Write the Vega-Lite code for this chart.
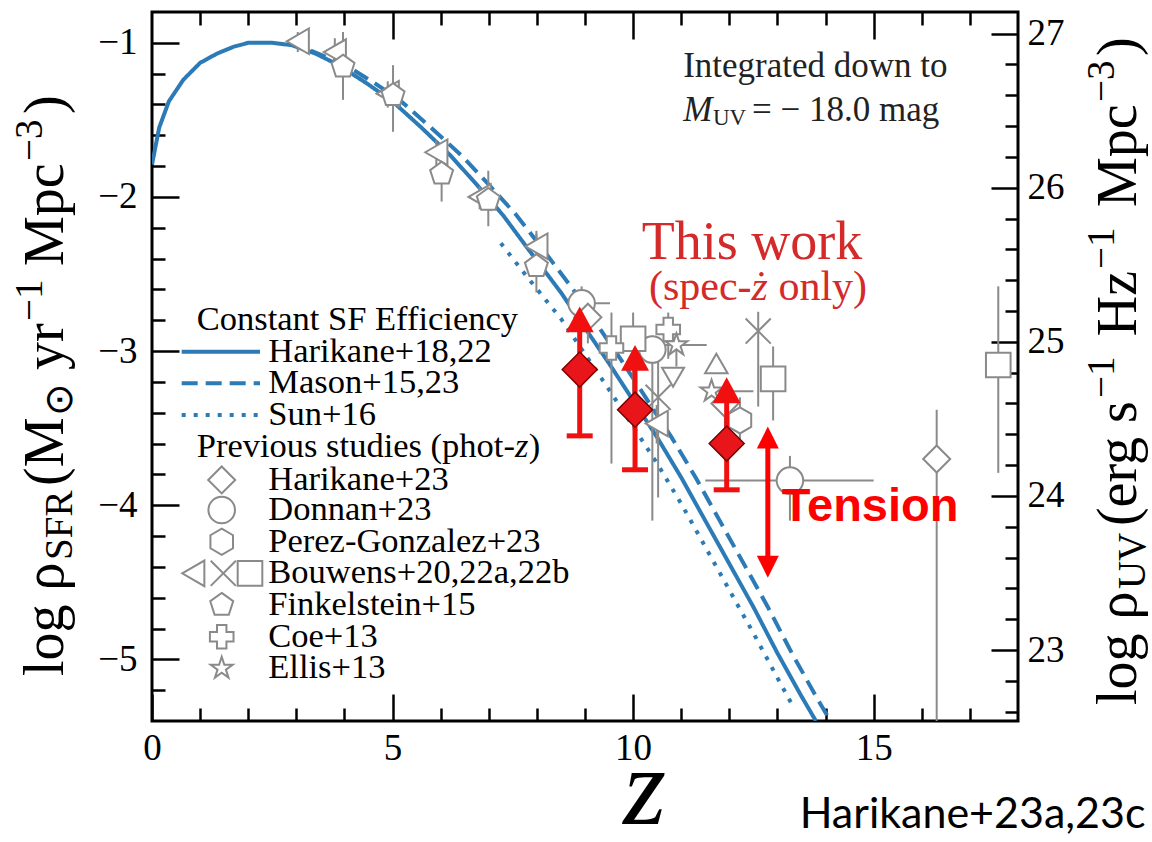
{
"$schema": "https://vega.github.io/schema/vega-lite/v6.json",
"width": 866, "height": 709,
"autosize": {"type": "none"},
"padding": {"left": 152, "top": 12, "right": 134, "bottom": 121},
"background": "white",
"config": {
  "view": {"stroke": "black", "strokeWidth": 3},
  "axis": {"grid": false, "domain": false, "tickColor": "black", "tickWidth": 2.5, "labelFont": "Liberation Serif", "labelFontSize": 37, "labelColor": "black", "labelFlush": false, "labelOverlap": false}
},
"datasets": {
  "curves": [
    {"model":"Harikane","z":0,"v":-1.79},{"model":"Harikane","z":0.15,"v":-1.55},{"model":"Harikane","z":0.35,"v":-1.38},{"model":"Harikane","z":0.65,"v":-1.24},{"model":"Harikane","z":1.0,"v":-1.13},{"model":"Harikane","z":1.35,"v":-1.07},{"model":"Harikane","z":1.7,"v":-1.025},{"model":"Harikane","z":2.0,"v":-1.0},{"model":"Harikane","z":2.5,"v":-1.0},{"model":"Harikane","z":2.9,"v":-1.015},{"model":"Harikane","z":3.4,"v":-1.07},{"model":"Harikane","z":3.85,"v":-1.14},{"model":"Harikane","z":4.45,"v":-1.26},{"model":"Harikane","z":5.0,"v":-1.38},{"model":"Harikane","z":5.6,"v":-1.55},{"model":"Harikane","z":6.2,"v":-1.73},{"model":"Harikane","z":6.75,"v":-1.92},{"model":"Harikane","z":7.3,"v":-2.12},{"model":"Harikane","z":7.8,"v":-2.33},{"model":"Harikane","z":8.5,"v":-2.62},{"model":"Harikane","z":9.0,"v":-2.85},{"model":"Harikane","z":9.5,"v":-3.08},{"model":"Harikane","z":10.0,"v":-3.32},{"model":"Harikane","z":10.5,"v":-3.56},{"model":"Harikane","z":11.0,"v":-3.82},{"model":"Harikane","z":11.5,"v":-4.10},{"model":"Harikane","z":12.0,"v":-4.38},{"model":"Harikane","z":12.5,"v":-4.66},{"model":"Harikane","z":13.0,"v":-4.96},{"model":"Harikane","z":13.5,"v":-5.24},{"model":"Harikane","z":13.8,"v":-5.40},
    {"model":"Mason","z":3.3,"v":-1.05},{"model":"Mason","z":3.6,"v":-1.09},{"model":"Mason","z":4.0,"v":-1.14},{"model":"Mason","z":4.62,"v":-1.26},{"model":"Mason","z":5.18,"v":-1.38},{"model":"Mason","z":5.8,"v":-1.55},{"model":"Mason","z":6.43,"v":-1.73},{"model":"Mason","z":7.0,"v":-1.92},{"model":"Mason","z":7.58,"v":-2.12},{"model":"Mason","z":8.1,"v":-2.33},{"model":"Mason","z":8.8,"v":-2.62},{"model":"Mason","z":9.3,"v":-2.85},{"model":"Mason","z":9.8,"v":-3.08},{"model":"Mason","z":10.3,"v":-3.32},{"model":"Mason","z":10.8,"v":-3.56},{"model":"Mason","z":11.3,"v":-3.82},{"model":"Mason","z":11.8,"v":-4.10},{"model":"Mason","z":12.3,"v":-4.38},{"model":"Mason","z":12.8,"v":-4.66},{"model":"Mason","z":13.3,"v":-4.96},{"model":"Mason","z":13.8,"v":-5.24},{"model":"Mason","z":14.1,"v":-5.40},
    {"model":"Sun","z":7.25,"v":-2.30},{"model":"Sun","z":7.8,"v":-2.52},{"model":"Sun","z":8.5,"v":-2.79},{"model":"Sun","z":9.0,"v":-3.02},{"model":"Sun","z":9.5,"v":-3.25},{"model":"Sun","z":10.0,"v":-3.49},{"model":"Sun","z":10.5,"v":-3.73},{"model":"Sun","z":11.0,"v":-3.99},{"model":"Sun","z":11.5,"v":-4.27},{"model":"Sun","z":12.0,"v":-4.55},{"model":"Sun","z":12.5,"v":-4.83},{"model":"Sun","z":13.0,"v":-5.12},{"model":"Sun","z":13.35,"v":-5.32}
  ],
  "legline": [
    {"model":"Harikane","z":0.617,"v":-3.004},{"model":"Harikane","z":2.245,"v":-3.004},
    {"model":"Mason","z":0.617,"v":-3.209},{"model":"Mason","z":2.245,"v":-3.209},
    {"model":"Sun","z":0.617,"v":-3.415},{"model":"Sun","z":2.245,"v":-3.415}
  ],
  "prev": [
    {"s":"triL","z":3.03,"v":-0.99,"vlo":-1.06,"vhi":-0.93},
    {"s":"triL","z":3.80,"v":-1.06,"vlo":-1.15,"vhi":-0.97},
    {"s":"triL","z":4.90,"v":-1.33,"vlo":-1.42,"vhi":-1.25},
    {"s":"triL","z":5.91,"v":-1.71,"vlo":-1.80,"vhi":-1.63},
    {"s":"triL","z":6.81,"v":-2.00,"vlo":-2.08,"vhi":-1.93},
    {"s":"triL","z":7.99,"v":-2.32,"vlo":-2.44,"vhi":-2.22},
    {"s":"triL","z":10.49,"v":-3.47,"vlo":-3.60,"vhi":-3.35},
    {"s":"pent","z":3.97,"v":-1.155,"vlo":-1.37,"vhi":-0.93},
    {"s":"pent","z":5.01,"v":-1.34,"vlo":-1.577,"vhi":-1.145},
    {"s":"pent","z":6.02,"v":-1.85,"vlo":-2.03,"vhi":-1.65},
    {"s":"pent","z":6.99,"v":-2.02,"vlo":-2.19,"vhi":-1.83},
    {"s":"pent","z":7.99,"v":-2.45,"vlo":-2.62,"vhi":-2.24},
    {"s":"circ","z":8.93,"v":-2.69,"vlo":-2.82,"vhi":-2.58,"zlo":8.72,"zhi":9.52},
    {"s":"circ","z":10.40,"v":-2.99,"vlo":-4.10,"vhi":-2.90},
    {"s":"circ","z":13.26,"v":-3.84,"vlo":-4.10,"vhi":-3.68,"zlo":11.5,"zhi":15.0},
    {"s":"hex","z":12.22,"v":-3.45,"vlo":-3.62,"vhi":-3.30},
    {"s":"diam","z":9.06,"v":-2.78,"vlo":-2.95,"vhi":-2.62},
    {"s":"diam","z":11.91,"v":-3.34,"vlo":-3.5,"vhi":-3.2},
    {"s":"diam","z":16.31,"v":-3.70,"vlo":-5.4,"vhi":-3.38},
    {"s":"xm","z":10.52,"v":-3.30,"vlo":-3.95,"vhi":-3.0},
    {"s":"xm","z":12.60,"v":-2.87,"vlo":-3.36,"vhi":-2.745},
    {"s":"sq","z":10.0,"v":-2.92,"vlo":-3.5,"vhi":-2.75},
    {"s":"sq","z":12.91,"v":-3.18,"vlo":-3.45,"vhi":-2.97},
    {"s":"sq","z":17.59,"v":-3.09,"vlo":-3.79,"vhi":-2.58},
    {"s":"plus","z":9.55,"v":-2.98,"vlo":-3.73,"vhi":-2.75},
    {"s":"plus","z":10.73,"v":-2.86,"vlo":-3.05,"vhi":-2.75},
    {"s":"star","z":10.90,"v":-2.96,"vlo":-3.10,"vhi":-2.85,"zlo":10.28,"zhi":11.53},
    {"s":"star","z":11.63,"v":-3.26,"zlo":11.5,"zhi":12.5},
    {"s":"triU","z":11.73,"v":-3.08},
    {"s":"triD","z":10.83,"v":-3.17}
  ],
  "legmark": [
    {"s":"diam","z":1.449,"v":-3.836},{"s":"circ","z":1.449,"v":-4.031},{"s":"hex","z":1.449,"v":-4.237},
    {"s":"triL","z":0.858,"v":-4.442},{"s":"xm","z":1.482,"v":-4.442},{"s":"sq","z":2.037,"v":-4.442},
    {"s":"pent","z":1.449,"v":-4.647},{"s":"plus","z":1.449,"v":-4.853},{"s":"star","z":1.449,"v":-5.058}
  ],
  "legtext": [
    {"t":"Constant SF Efficiency","z":0.93,"v":-2.798},
    {"t":"Harikane+18,22","z":2.417,"v":-3.004},
    {"t":"Mason+15,23","z":2.417,"v":-3.209},
    {"t":"Sun+16","z":2.417,"v":-3.415},
    {"t":"Previous studies (phot-","z":0.93,"v":-3.620},
    {"t":")","z":7.83,"v":-3.620},
    {"t":"Harikane+23","z":2.417,"v":-3.836},
    {"t":"Donnan+23","z":2.417,"v":-4.031},
    {"t":"Perez-Gonzalez+23","z":2.417,"v":-4.237},
    {"t":"Bouwens+20,22a,22b","z":2.417,"v":-4.442},
    {"t":"Finkelstein+15","z":2.417,"v":-4.647},
    {"t":"Coe+13","z":2.417,"v":-4.853},
    {"t":"Ellis+13","z":2.417,"v":-5.058}
  ],
  "titlebig": [
    {"t":"log ρ","z":-1.85,"v":-5.108},
    {"t":"(M","z":-1.85,"v":-3.875},
    {"t":"yr","z":-1.85,"v":-3.123},
    {"t":"Mpc","z":-1.85,"v":-2.448},
    {"t":")","z":-1.85,"v":-1.462},
    {"t":"log ρ","z":20.45,"v":-5.296},
    {"t":"(erg s","z":20.45,"v":-4.135},
    {"t":"Hz","z":20.45,"v":-2.903},
    {"t":"Mpc","z":20.45,"v":-2.065},
    {"t":")","z":20.45,"v":-1.085}
  ],
  "titlesmall": [
    {"t":"SFR","z":-1.663,"v":-4.355},
    {"t":"⊙","z":-1.663,"v":-3.421},
    {"t":"−1","z":-2.29,"v":-2.805},
    {"t":"−3","z":-2.29,"v":-1.767},
    {"t":"UV","z":20.64,"v":-4.544},
    {"t":"−1","z":19.99,"v":-3.304},
    {"t":"−1","z":19.99,"v":-2.467},
    {"t":"−3","z":19.99,"v":-1.384}
  ],
  "tw": [
    {"z":8.89,"v":-3.12,"lo":-3.55,"tip":-2.71},
    {"z":10.04,"v":-3.38,"lo":-3.77,"tip":-2.96},
    {"z":11.945,"v":-3.60,"lo":-3.90,"tip":-3.17}
  ],
  "tension": [{"z":12.8,"top":-3.49,"bot":-4.47}],
  "frame": [{"z":0,"v":-3,"r":25}]
},
"layer": [
 {"layer": [
  {"data":{"name":"curves"},
   "mark":{"type":"line","strokeWidth":4,"color":"#2c7bb6","clip":true},
   "encoding":{
     "x":{"field":"z","type":"quantitative","scale":{"domain":[0,18],"nice":false,"zero":false},"axis":null},
     "y":{"field":"v","type":"quantitative","scale":{"domain":[-5.4,-0.8],"nice":false,"zero":false},"axis":null},
     "strokeDash":{"field":"model","type":"nominal","scale":{"domain":["Harikane","Mason","Sun"],"range":[[1,0],[16,8],[4,8]]},"legend":null}
   }},
  {"data":{"name":"legline"},
   "mark":{"type":"line","strokeWidth":4,"color":"#2c7bb6"},
   "encoding":{
     "x":{"field":"z","type":"quantitative","scale":{"domain":[0,18],"nice":false,"zero":false},"axis":null},
     "y":{"field":"v","type":"quantitative","scale":{"domain":[-5.4,-0.8],"nice":false,"zero":false},"axis":null},
     "strokeDash":{"field":"model","type":"nominal","legend":null}
   }},
  {"data":{"name":"prev"},"transform":[{"filter":"isValid(datum.vlo)"}],
   "mark":{"type":"rule","color":"#8a8a8a","strokeWidth":2,"clip":true},
   "encoding":{
     "x":{"field":"z","type":"quantitative","scale":{"domain":[0,18],"nice":false,"zero":false},"axis":null},
     "y":{"field":"vlo","type":"quantitative","scale":{"domain":[-5.4,-0.8],"nice":false,"zero":false},"axis":null},
     "y2":{"field":"vhi"}
   }},
  {"data":{"name":"prev"},"transform":[{"filter":"isValid(datum.zlo)"}],
   "mark":{"type":"rule","color":"#8a8a8a","strokeWidth":2,"clip":true},
   "encoding":{
     "x":{"field":"zlo","type":"quantitative","scale":{"domain":[0,18],"nice":false,"zero":false},"axis":null},
     "x2":{"field":"zhi"},
     "y":{"field":"v","type":"quantitative","scale":{"domain":[-5.4,-0.8],"nice":false,"zero":false},"axis":null}
   }},
  {"data":{"name":"prev"},
   "mark":{"type":"point","filled":true,"fill":"white","stroke":"#8a8a8a","strokeWidth":2,"opacity":1,"fillOpacity":1},
   "encoding":{
     "x":{"field":"z","type":"quantitative","scale":{"domain":[0,18],"nice":false,"zero":false},"axis":null},
     "y":{"field":"v","type":"quantitative","scale":{"domain":[-5.4,-0.8],"nice":false,"zero":false},"axis":null},
     "shape":{"field":"s","type":"nominal","legend":null,"scale":{"domain":["diam","circ","hex","triL","xm","sq","pent","plus","star","triU","triD"],"range":["diamond","circle","M0,-1L0.866,-0.5L0.866,0.5L0,1L-0.866,0.5L-0.866,-0.5Z","triangle-left","M-1,-1L1,1M-1,1L1,-1","square","M0,-1L0.951,-0.309L0.588,0.809L-0.588,0.809L-0.951,-0.309Z","cross","M0,-1L0.225,-0.309L0.951,-0.309L0.363,0.118L0.588,0.809L0,0.382L-0.588,0.809L-0.363,0.118L-0.951,-0.309L-0.225,-0.309Z","triangle-up","triangle-down"]}},
     "size":{"field":"s","type":"ordinal","legend":null,"scale":{"domain":["diam","circ","hex","triL","xm","sq","pent","plus","star","triU","triD"],"range":[729,484,484,700,529,484,484,484,784,110,110]}}
   }},
  {"data":{"name":"legmark"},
   "mark":{"type":"point","filled":true,"fill":"white","stroke":"#8a8a8a","strokeWidth":2,"opacity":1,"fillOpacity":1},
   "encoding":{
     "x":{"field":"z","type":"quantitative","scale":{"domain":[0,18],"nice":false,"zero":false},"axis":null},
     "y":{"field":"v","type":"quantitative","scale":{"domain":[-5.4,-0.8],"nice":false,"zero":false},"axis":null},
     "shape":{"field":"s","type":"nominal","legend":null},
     "size":{"field":"s","type":"ordinal","legend":null}
   }},
  {"data":{"name":"legtext"},
   "mark":{"type":"text","font":"Liberation Serif","fontSize":34.5,"align":"left","baseline":"middle","color":"black"},
   "encoding":{
     "x":{"field":"z","type":"quantitative","scale":{"domain":[0,18],"nice":false,"zero":false},"axis":null},
     "y":{"field":"v","type":"quantitative","scale":{"domain":[-5.4,-0.8],"nice":false,"zero":false},"axis":null},
     "text":{"field":"t"}
   }},
  {"data":{"values":[{"t":"z","z":7.545,"v":-3.620}]},
   "mark":{"type":"text","font":"Liberation Serif","fontSize":34.5,"fontStyle":"italic","align":"left","baseline":"middle","color":"black"},
   "encoding":{
     "x":{"field":"z","type":"quantitative","scale":{"domain":[0,18],"nice":false,"zero":false},"axis":null},
     "y":{"field":"v","type":"quantitative","scale":{"domain":[-5.4,-0.8],"nice":false,"zero":false},"axis":null},
     "text":{"field":"t"}
   }},
  {"data":{"name":"titlebig"},
   "mark":{"type":"text","font":"Liberation Serif","fontSize":56,"angle":270,"align":"left","baseline":"alphabetic","color":"black"},
   "encoding":{
     "x":{"field":"z","type":"quantitative","scale":{"domain":[0,18],"nice":false,"zero":false},"axis":null},
     "y":{"field":"v","type":"quantitative","scale":{"domain":[-5.4,-0.8],"nice":false,"zero":false},"axis":null},
     "text":{"field":"t"}
   }},
  {"data":{"name":"titlesmall"},
   "mark":{"type":"text","font":"Liberation Serif","fontSize":39,"angle":270,"align":"left","baseline":"alphabetic","color":"black"},
   "encoding":{
     "x":{"field":"z","type":"quantitative","scale":{"domain":[0,18],"nice":false,"zero":false},"axis":null},
     "y":{"field":"v","type":"quantitative","scale":{"domain":[-5.4,-0.8],"nice":false,"zero":false},"axis":null},
     "text":{"field":"t"}
   }},
  {"data":{"name":"tw"},
   "mark":{"type":"rule","color":"#f01010","strokeWidth":5},
   "encoding":{
     "x":{"field":"z","type":"quantitative","scale":{"domain":[0,18],"nice":false,"zero":false},"axis":null},
     "y":{"field":"v","type":"quantitative","scale":{"domain":[-5.4,-0.8],"nice":false,"zero":false},"axis":null},
     "y2":{"field":"lo"}
   }},
  {"data":{"name":"tw"},
   "mark":{"type":"rule","color":"#f01010","strokeWidth":5,"y2Offset":12},
   "encoding":{
     "x":{"field":"z","type":"quantitative","scale":{"domain":[0,18],"nice":false,"zero":false},"axis":null},
     "y":{"field":"v","type":"quantitative","scale":{"domain":[-5.4,-0.8],"nice":false,"zero":false},"axis":null},
     "y2":{"field":"tip"}
   }},
  {"data":{"name":"tw"},
   "mark":{"type":"point","shape":"M-1,0L1,0","size":676,"stroke":"#f01010","strokeWidth":5,"opacity":1,"filled":false},
   "encoding":{
     "x":{"field":"z","type":"quantitative","scale":{"domain":[0,18],"nice":false,"zero":false},"axis":null},
     "y":{"field":"lo","type":"quantitative","scale":{"domain":[-5.4,-0.8],"nice":false,"zero":false},"axis":null}
   }},
  {"data":{"name":"tw"},
   "mark":{"type":"point","shape":"M0,0L1,1.85L-1,1.85Z","size":784,"fill":"#f01010","filled":true,"opacity":1,"strokeWidth":0},
   "encoding":{
     "x":{"field":"z","type":"quantitative","scale":{"domain":[0,18],"nice":false,"zero":false},"axis":null},
     "y":{"field":"tip","type":"quantitative","scale":{"domain":[-5.4,-0.8],"nice":false,"zero":false},"axis":null}
   }},
  {"data":{"name":"tw"},
   "mark":{"type":"point","shape":"diamond","size":1225,"fill":"#e8161b","filled":true,"stroke":"#7a0000","strokeWidth":1.5,"opacity":1},
   "encoding":{
     "x":{"field":"z","type":"quantitative","scale":{"domain":[0,18],"nice":false,"zero":false},"axis":null},
     "y":{"field":"v","type":"quantitative","scale":{"domain":[-5.4,-0.8],"nice":false,"zero":false},"axis":null}
   }},
  {"data":{"name":"tension"},
   "mark":{"type":"rule","color":"#ff0000","strokeWidth":5,"yOffset":12,"y2Offset":-12},
   "encoding":{
     "x":{"field":"z","type":"quantitative","scale":{"domain":[0,18],"nice":false,"zero":false},"axis":null},
     "y":{"field":"top","type":"quantitative","scale":{"domain":[-5.4,-0.8],"nice":false,"zero":false},"axis":null},
     "y2":{"field":"bot"}
   }},
  {"data":{"name":"tension"},
   "mark":{"type":"point","shape":"M0,0L1,2L-1,2Z","size":484,"fill":"#ff0000","filled":true,"opacity":1,"strokeWidth":0},
   "encoding":{
     "x":{"field":"z","type":"quantitative","scale":{"domain":[0,18],"nice":false,"zero":false},"axis":null},
     "y":{"field":"top","type":"quantitative","scale":{"domain":[-5.4,-0.8],"nice":false,"zero":false},"axis":null}
   }},
  {"data":{"name":"tension"},
   "mark":{"type":"point","shape":"M0,0L1,-2L-1,-2Z","size":484,"fill":"#ff0000","filled":true,"opacity":1,"strokeWidth":0},
   "encoding":{
     "x":{"field":"z","type":"quantitative","scale":{"domain":[0,18],"nice":false,"zero":false},"axis":null},
     "y":{"field":"bot","type":"quantitative","scale":{"domain":[-5.4,-0.8],"nice":false,"zero":false},"axis":null}
   }},
  {"data":{"values":[{"t":"This work","z":12.47,"v":-2.299}]},
   "mark":{"type":"text","font":"Liberation Serif","fontSize":54,"align":"center","baseline":"middle","color":"#d42a2a"},
   "encoding":{
     "x":{"field":"z","type":"quantitative","scale":{"domain":[0,18],"nice":false,"zero":false},"axis":null},
     "y":{"field":"v","type":"quantitative","scale":{"domain":[-5.4,-0.8],"nice":false,"zero":false},"axis":null},
     "text":{"field":"t"}
   }},
  {"data":{"values":[{"t":"(spec-","z":10.33,"v":-2.584},{"t":"only)","z":13.02,"v":-2.584}]},
   "mark":{"type":"text","font":"Liberation Serif","fontSize":42,"align":"left","baseline":"middle","color":"#d42a2a"},
   "encoding":{
     "x":{"field":"z","type":"quantitative","scale":{"domain":[0,18],"nice":false,"zero":false},"axis":null},
     "y":{"field":"v","type":"quantitative","scale":{"domain":[-5.4,-0.8],"nice":false,"zero":false},"axis":null},
     "text":{"field":"t"}
   }},
  {"data":{"values":[{"t":"ż","z":12.46,"v":-2.584}]},
   "mark":{"type":"text","font":"Liberation Serif","fontSize":42,"fontStyle":"italic","align":"left","baseline":"middle","color":"#d42a2a"},
   "encoding":{
     "x":{"field":"z","type":"quantitative","scale":{"domain":[0,18],"nice":false,"zero":false},"axis":null},
     "y":{"field":"v","type":"quantitative","scale":{"domain":[-5.4,-0.8],"nice":false,"zero":false},"axis":null},
     "text":{"field":"t"}
   }},
  {"data":{"values":[{"t":"Integrated down to","z":11.04,"v":-1.15},{"t":"=  − 18.0 mag","z":12.47,"v":-1.436}]},
   "mark":{"type":"text","font":"Liberation Serif","fontSize":35,"align":"left","baseline":"middle","color":"#222222"},
   "encoding":{
     "x":{"field":"z","type":"quantitative","scale":{"domain":[0,18],"nice":false,"zero":false},"axis":null},
     "y":{"field":"v","type":"quantitative","scale":{"domain":[-5.4,-0.8],"nice":false,"zero":false},"axis":null},
     "text":{"field":"t"}
   }},
  {"data":{"values":[{"t":"M","z":11.04,"v":-1.436}]},
   "mark":{"type":"text","font":"Liberation Serif","fontSize":35,"fontStyle":"italic","align":"left","baseline":"middle","color":"#222222"},
   "encoding":{
     "x":{"field":"z","type":"quantitative","scale":{"domain":[0,18],"nice":false,"zero":false},"axis":null},
     "y":{"field":"v","type":"quantitative","scale":{"domain":[-5.4,-0.8],"nice":false,"zero":false},"axis":null},
     "text":{"field":"t"}
   }},
  {"data":{"values":[{"t":"UV","z":11.66,"v":-1.49}]},
   "mark":{"type":"text","font":"Liberation Serif","fontSize":23,"align":"left","baseline":"middle","color":"#222222"},
   "encoding":{
     "x":{"field":"z","type":"quantitative","scale":{"domain":[0,18],"nice":false,"zero":false},"axis":null},
     "y":{"field":"v","type":"quantitative","scale":{"domain":[-5.4,-0.8],"nice":false,"zero":false},"axis":null},
     "text":{"field":"t"}
   }},
  {"data":{"values":[{"t":"Tension","z":13.09,"v":-4.01}]},
   "mark":{"type":"text","font":"Liberation Sans","fontSize":47,"fontWeight":"bold","align":"left","baseline":"middle","color":"#ff0000"},
   "encoding":{
     "x":{"field":"z","type":"quantitative","scale":{"domain":[0,18],"nice":false,"zero":false},"axis":null},
     "y":{"field":"v","type":"quantitative","scale":{"domain":[-5.4,-0.8],"nice":false,"zero":false},"axis":null},
     "text":{"field":"t"}
   }},
  {"data":{"values":[{"t":"Harikane+23a,23c","z":20.65,"v":-6.01}]},
   "mark":{"type":"text","font":"Lato","fontSize":43,"align":"right","baseline":"middle","color":"black"},
   "encoding":{
     "x":{"field":"z","type":"quantitative","scale":{"domain":[0,18],"nice":false,"zero":false},"axis":null},
     "y":{"field":"v","type":"quantitative","scale":{"domain":[-5.4,-0.8],"nice":false,"zero":false},"axis":null},
     "text":{"field":"t"}
   }},
  {"data":{"values":[{"t":"z","z":10.24,"v":-6.07}]},
   "mark":{"type":"text","font":"Liberation Serif","fontSize":110,"fontStyle":"italic","align":"center","baseline":"alphabetic","color":"black"},
   "encoding":{
     "x":{"field":"z","type":"quantitative","scale":{"domain":[0,18],"nice":false,"zero":false},"axis":null},
     "y":{"field":"v","type":"quantitative","scale":{"domain":[-5.4,-0.8],"nice":false,"zero":false},"axis":null},
     "text":{"field":"t"}
   }}
 ]},
 {"data":{"name":"frame"},
  "mark":{"type":"point","opacity":0},
  "encoding":{
    "x":{"field":"z","type":"quantitative","scale":{"domain":[0,18],"nice":false,"zero":false},
         "axis":{"orient":"bottom","values":[0,1,2,3,4,5,6,7,8,9,10,11,12,13,14,15,16,17],"format":".0f","labelFont":"Liberation Serif","labelFontSize":37,"labelExpr":"datum.value % 5 === 0 ? datum.label : ''","tickSize":{"condition":{"test":"datum.value % 5 === 0","value":-27},"value":-13},"labelPadding":36,"title":null}},
    "y":{"field":"v","type":"quantitative","scale":{"domain":[-5.4,-0.8],"nice":false,"zero":false},
         "axis":{"orient":"left","values":[-5.2,-5,-4.8,-4.6,-4.4,-4.2,-4,-3.8,-3.6,-3.4,-3.2,-3,-2.8,-2.6,-2.4,-2.2,-2,-1.8,-1.6,-1.4,-1.2,-1],"format":".0f","labelFont":"Liberation Serif","labelFontSize":37,"labelExpr":"datum.value % 1 === 0 ? datum.label : ''","tickSize":{"condition":{"test":"datum.value % 1 === 0","value":-27},"value":-13},"labelPadding":42,"title":null}}
  }},
 {"data":{"name":"frame"},
  "mark":{"type":"point","opacity":0},
  "encoding":{
    "x":{"field":"z","type":"quantitative","scale":{"domain":[0,18],"nice":false,"zero":false},
         "axis":{"orient":"top","values":[1,2,3,4,5,6,7,8,9,10,11,12,13,14,15,16,17],"labels":false,"tickSize":{"condition":{"test":"datum.value % 5 === 0","value":-27},"value":-13},"title":null}},
    "y":{"field":"r","type":"quantitative","scale":{"domain":[22.54,27.14],"nice":false,"zero":false},
         "axis":{"orient":"right","values":[22.6,22.8,23,23.2,23.4,23.6,23.8,24,24.2,24.4,24.6,24.8,25,25.2,25.4,25.6,25.8,26,26.2,26.4,26.6,26.8,27],"format":".0f","labelFont":"Liberation Serif","labelFontSize":37,"labelExpr":"datum.value % 1 === 0 ? datum.label : ''","tickSize":{"condition":{"test":"datum.value % 1 === 0","value":-27},"value":-13},"labelPadding":36,"title":null}}
  }}
],
"resolve": {"scale": {"x": "independent", "y": "independent"}}
}
